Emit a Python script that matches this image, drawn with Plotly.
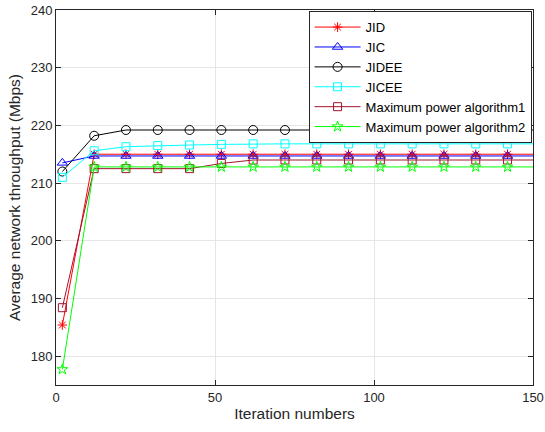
import plotly.graph_objects as go

# Data
iterations = [2, 12, 22, 32, 42, 52, 62, 72, 82, 92, 102, 112, 122, 132, 142, 150]
jid = [185.4, 215.0, 215.0, 215.0, 215.0, 215.0, 215.0, 215.0, 215.0, 215.0, 215.0, 215.0, 215.0, 215.0, 215.0, 215.0]
jic = [213.5, 214.7, 214.7, 214.7, 214.7, 214.7, 214.7, 214.7, 214.7, 214.7, 214.7, 214.7, 214.7, 214.7, 214.7, 214.7]
jidee = [212.0, 218.2, 219.2, 219.2, 219.2, 219.2, 219.2, 219.2, 219.2, 219.2, 219.2, 219.2, 219.2, 219.2, 219.2, 219.2]
jicee = [211.0, 215.6, 216.3, 216.5, 216.6, 216.7, 216.8, 216.8, 216.8, 216.8, 216.8, 216.8, 216.8, 216.8, 216.8, 216.8]
mp1 = [188.4, 212.5, 212.5, 212.5, 212.5, 213.4, 214.0, 214.0, 214.0, 214.0, 214.0, 214.0, 214.0, 214.0, 214.0, 214.0]
mp2 = [177.7, 212.8, 212.8, 212.8, 212.8, 212.8, 212.8, 212.8, 212.8, 212.8, 212.8, 212.8, 212.8, 212.8, 212.8, 212.8]

x_ticks = [0, 50, 100, 150]
y_ticks = [180, 190, 200, 210, 220, 230, 240]

series = [
    ("JID", jid, "#ff0000", "asterisk-open", 8),
    ("JIC", jic, "#0000ff", "triangle-up-open", 9),
    ("JIDEE", jidee, "#000000", "circle-open", 9),
    ("JICEE", jicee, "#00ffff", "square-open", 8),
    ("Maximum power algorithm1", mp1, "#a2142f", "square-open", 8),
    ("Maximum power algorithm2", mp2, "#00ff00", "star-open", 8),
]

fig = go.Figure()
for name, vals, color, symbol, size in series:
    fig.add_trace(go.Scatter(
        x=iterations[:-1], y=vals[:-1], name=name, mode="lines+markers",
        line=dict(color=color, width=1),
        marker=dict(symbol=symbol, size=size, color=color, line=dict(color=color, width=1)),
        legendgroup=name,
    ))
    fig.add_trace(go.Scatter(
        x=iterations[-2:], y=vals[-2:], mode="lines", showlegend=False,
        line=dict(color=color, width=1), legendgroup=name, hoverinfo="skip",
    ))

axis_common = dict(
    showline=True, linecolor="#262626", linewidth=1, mirror="ticks",
    ticks="inside", ticklen=5, tickcolor="#262626", tickwidth=1,
    showgrid=True, gridcolor="#e6e6e6", gridwidth=1, zeroline=False,
    tickfont=dict(size=13, color="#262626"), automargin=False,
)

fig.update_layout(
    width=545, height=432,
    margin=dict(l=56, r=12, t=10, b=47),
    paper_bgcolor="white", plot_bgcolor="white",
    font=dict(family="Arial, Liberation Sans, sans-serif", color="#262626", size=13),
    xaxis=dict(range=[0, 150], tickvals=x_ticks,
               title=dict(text="Iteration numbers", font=dict(size=15.5), standoff=4),
               **axis_common),
    yaxis=dict(range=[175, 240], tickvals=y_ticks,
               title=dict(text="Average network throughput (Mbps)", font=dict(size=15.5), standoff=6),
               **axis_common),
    legend=dict(x=0.997, y=0.997, xanchor="right", yanchor="top",
                bgcolor="white", bordercolor="#262626", borderwidth=1,
                font=dict(size=13, color="#000000"), tracegroupgap=0,
                itemwidth=46),
    showlegend=True,
)

fig.write_html("out.html")
